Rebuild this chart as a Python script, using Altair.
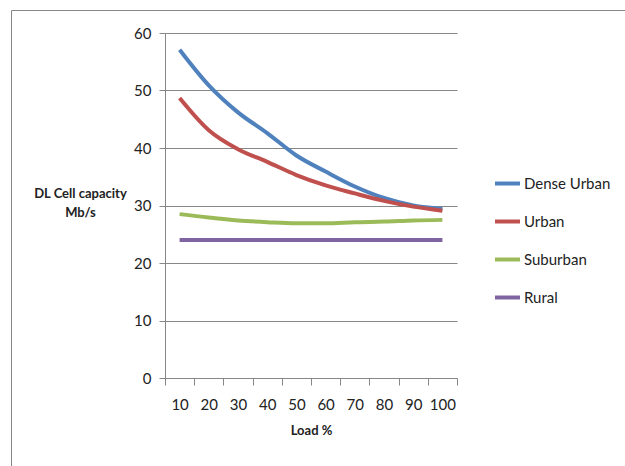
import altair as alt
import pandas as pd

loads = [10, 20, 30, 40, 50, 60, 70, 80, 90, 100]
series_names = ["Dense Urban", "Urban", "Suburban", "Rural"]
dense_urban = [57.1, 50.9, 46.2, 42.6, 38.7, 35.9, 33.3, 31.3, 30.0, 29.4]
urban = [48.7, 43.1, 39.8, 37.6, 35.3, 33.5, 32.1, 30.8, 29.8, 29.1]
suburban = [28.5, 27.9, 27.4, 27.1, 26.9, 26.9, 27.1, 27.2, 27.4, 27.5]
rural = [24.0, 24.0, 24.0, 24.0, 24.0, 24.0, 24.0, 24.0, 24.0, 24.0]
colors = ["#4F81BD", "#C0504D", "#9BBB59", "#8064A2"]
y_ticks = [0, 10, 20, 30, 40, 50, 60]

rows = []
for name, vals in zip(series_names, [dense_urban, urban, suburban, rural]):
    for l, v in zip(loads, vals):
        rows.append({"load": l, "value": v, "series": name})
df = pd.DataFrame(rows)

FONT = "Lato"
GRAY = "#878787"

lines = alt.Chart(df).mark_line(strokeWidth=4, interpolate="monotone").encode(
    x=alt.X(
        "load:O",
        sort=loads,
        scale=alt.Scale(paddingInner=0, paddingOuter=0),
        axis=alt.Axis(
            title="Load %",
            labelAngle=0,
            tickBand="extent",
            tickSize=7,
            labelPadding=12,
            labelFontSize=15,
            labelFont=FONT,
            labelColor="#222222",
            titleFont=FONT,
            titleFontSize=13,
            titleFontWeight="bold",
            titleColor="#222222",
            titlePadding=12,
            domainColor=GRAY,
            tickColor=GRAY,
            grid=False,
        ),
    ),
    y=alt.Y(
        "value:Q",
        scale=alt.Scale(domain=[0, 60]),
        axis=alt.Axis(
            title=["DL Cell capacity", "Mb/s"],
            values=y_ticks,
            titleAngle=0,
            titleX=-85,
            titleY=154,
            titleAlign="center",
            titleBaseline="top",
            titleLineHeight=19,
            titleFont=FONT,
            titleFontSize=13,
            titleFontWeight="bold",
            titleColor="#222222",
            tickSize=6,
            labelPadding=8,
            labelFontSize=15,
            labelFont=FONT,
            labelColor="#222222",
            domainColor=GRAY,
            tickColor=GRAY,
            gridColor=GRAY,
            grid=True,
        ),
    ),
    color=alt.Color(
        "series:N",
        sort=series_names,
        scale=alt.Scale(domain=series_names, range=colors),
        legend=alt.Legend(
            title=None,
            orient="none",
            legendX=328,
            legendY=136,
            symbolType="stroke",
            symbolSize=625,
            symbolStrokeWidth=4,
            labelFontSize=15,
            labelFont=FONT,
            labelColor="#222222",
            labelOffset=2,
            rowPadding=15,
        ),
    ),
)

frame = alt.Chart(pd.DataFrame({"a": [0]})).mark_rect(
    fill=None, stroke=GRAY, strokeWidth=1
).encode(
    x=alt.value(-153.5), x2=alt.value(480),
    y=alt.value(-22.5), y2=alt.value(450),
)

chart = alt.layer(frame, lines).properties(
    width=292,
    height=345,
    background="white",
    autosize=alt.AutoSizeParams(type="none"),
    padding={"left": 165, "top": 33, "right": 168, "bottom": 88},
).configure_view(strokeWidth=0)

chart.save("out.html", embed_options={"renderer": "svg", "actions": False})
